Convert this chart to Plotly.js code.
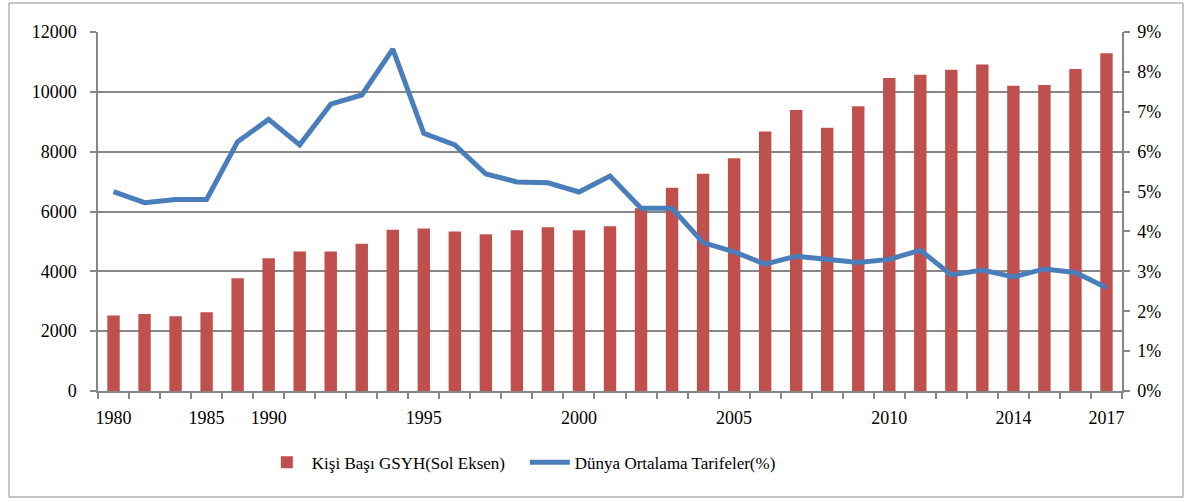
<!DOCTYPE html>
<html>
<head>
<meta charset="utf-8">
<script src="https://cdn.plot.ly/plotly-3.0.1.min.js"></script>
<style>
  html, body { margin: 0; padding: 0; background: #ffffff; }
  #chart { width: 1186px; height: 502px; }
</style>
</head>
<body>
<div id="chart"></div>
<script>
// Categories (years shown on the horizontal axis)
var years = ['1980','1982','1983','1985','1988','1990','1991','1992','1993','1994',
             '1995','1996','1997','1998','1999','2000','2001','2002','2003','2004',
             '2005','2006','2007','2008','2009','2010','2011','2012','2013','2014',
             '2015','2016','2017'];

// Per-capita GDP (left axis)
var gdpPerCapita = [2520, 2570, 2500, 2630, 3770, 4440, 4660, 4660, 4920, 5390,
                    5430, 5330, 5240, 5370, 5470, 5370, 5510, 6110, 6790, 7260,
                    7780, 8670, 9390, 8800, 9520, 10460, 10570, 10740, 10910, 10200,
                    10230, 10760, 11290];

// World average tariffs, % (right axis)
var worldTariff = [5.00, 4.72, 4.80, 4.80, 6.25, 6.81, 6.17, 7.19, 7.42, 8.57,
                   6.46, 6.17, 5.44, 5.24, 5.22, 4.99, 5.39, 4.58, 4.58, 3.72,
                   3.49, 3.18, 3.38, 3.31, 3.22, 3.30, 3.53, 2.91, 3.03, 2.86,
                   3.06, 2.97, 2.59];

// Year labels that are printed under the axis
var shownLabels = ['1980','1985','1990','1995','2000','2005','2010','2014','2017'];

var idx = years.map(function (_, i) { return i; });
var labelPos = shownLabels.map(function (l) { return years.indexOf(l); });
var boundaries = [];
for (var b = 0; b <= years.length; b++) boundaries.push(b - 0.5);

var FONT = 'Liberation Serif, Times New Roman, serif';
var GREY = '#878787';

var traces = [
  {
    type: 'bar',
    name: 'Kişi Başı GSYH(Sol Eksen)',
    x: idx,
    y: gdpPerCapita,
    customdata: years,
    textposition: 'none',
    marker: { color: '#C0504D' },
    hovertemplate: '%{customdata}: %{y}<extra></extra>'
  },
  {
    type: 'scatter',
    mode: 'lines',
    name: 'Dünya Ortalama Tarifeler(%)',
    x: idx,
    y: worldTariff,
    yaxis: 'y2',
    customdata: years,
    line: { color: '#4A7EBB', width: 5 },
    hovertemplate: '%{customdata}: %{y}%<extra></extra>'
  }
];

var layout = {
  width: 1186,
  height: 502,
  margin: { l: 98, r: 64, t: 32, b: 111 },
  paper_bgcolor: '#ffffff',
  plot_bgcolor: '#ffffff',
  font: { family: FONT, size: 18, color: '#000000' },
  bargap: 0.6,
  showlegend: true,
  legend: {
    orientation: 'h',
    x: 0.16,
    xanchor: 'left',
    y: -0.2,
    yanchor: 'middle',
    itemwidth: 40,
    entrywidth: 208,
    entrywidthmode: 'pixels',
    font: { family: FONT, size: 17, color: '#000000' },
    bgcolor: 'rgba(0,0,0,0)'
  },
  xaxis: {
    range: [-0.5, years.length - 0.5],
    tickmode: 'array',
    tickvals: labelPos,
    ticktext: shownLabels,
    ticks: '',
    ticklabelstandoff: 10,
    showgrid: false,
    zeroline: false,
    showline: true,
    linecolor: GREY,
    linewidth: 1.5,
    minor: {
      tickmode: 'array',
      tickvals: boundaries,
      ticks: 'outside',
      ticklen: 6,
      tickwidth: 1.5,
      tickcolor: GREY,
      showgrid: false
    },
    fixedrange: true
  },
  yaxis: {
    range: [0, 12000],
    tickmode: 'linear',
    tick0: 0,
    dtick: 2000,
    tickformat: 'd',
    ticks: 'outside',
    ticklen: 6,
    tickwidth: 1.5,
    tickcolor: GREY,
    ticklabelstandoff: 10,
    showgrid: true,
    gridcolor: GREY,
    gridwidth: 1.5,
    zeroline: false,
    showline: true,
    linecolor: GREY,
    linewidth: 1.5,
    fixedrange: true
  },
  yaxis2: {
    overlaying: 'y',
    side: 'right',
    range: [0, 9],
    tickmode: 'linear',
    tick0: 0,
    dtick: 1,
    ticksuffix: '%',
    ticks: 'outside',
    ticklen: 6,
    tickwidth: 1.5,
    tickcolor: GREY,
    ticklabelstandoff: 4,
    showgrid: false,
    zeroline: false,
    showline: true,
    linecolor: GREY,
    linewidth: 1.5,
    fixedrange: true
  },
  shapes: [
    {
      type: 'rect',
      xref: 'paper', yref: 'paper',
      x0: (9 - 98) / 1024, x1: (1183 - 98) / 1024,
      y0: (391 - 497) / 359, y1: (391 - 3) / 359,
      line: { color: '#8c8c8c', width: 1 },
      fillcolor: 'rgba(0,0,0,0)',
      layer: 'below'
    }
  ]
};

Plotly.newPlot('chart', traces, layout, { displayModeBar: false, responsive: false });
</script>
</body>
</html>
